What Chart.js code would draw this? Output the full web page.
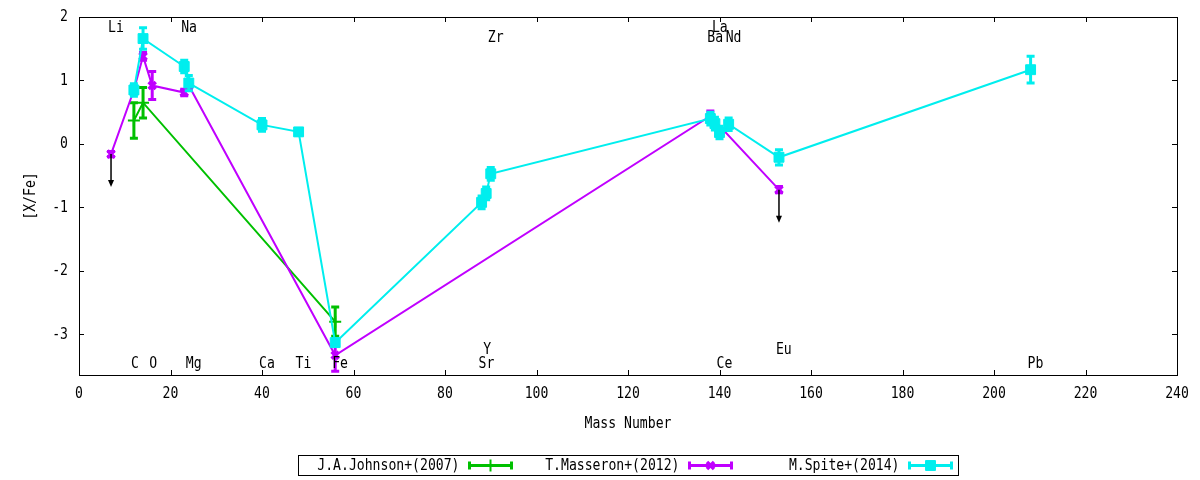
<!DOCTYPE html>
<html>
<head>
<meta charset="utf-8">
<title>[X/Fe] vs Mass Number</title>
<script src="https://cdn.jsdelivr.net/npm/chart.js@4.4.1/dist/chart.umd.min.js"></script>
<style>
  html, body { margin: 0; padding: 0; background: #fff; }
  #wrap { width: 1200px; height: 480px; position: relative; }
</style>
</head>
<body>
<div id="wrap"><canvas id="abundanceChart"></canvas></div>
<script>
// ---- データ ----
const johnsonMass = [12, 14, 56];
const johnsonXFe  = [0.37, 0.65, -2.80];
const johnsonErr  = [0.28, 0.24, 0.23];

const masseronMass = [7, 12, 14, 16, 23, 24, 56, 138, 153];
const masseronXFe  = [-0.16, 0.85, 1.38, 0.92, 0.81, 0.92, -3.33, 0.44, -0.72];
const masseronErr  = [0.04, 0.05, 0.06, 0.22, 0.05, 0.05, 0.25, 0.08, 0.05];

const spiteMass = [12, 14, 23, 24, 40, 48, 56, 88, 89, 90, 138, 139, 140, 142, 153, 208];
const spiteXFe  = [0.85, 1.66, 1.22, 0.96, 0.30, 0.19, -3.13, -0.92, -0.78, -0.47, 0.40, 0.32, 0.18, 0.31, -0.21, 1.17];
const spiteErr  = [0.10, 0.17, 0.10, 0.12, 0.10, 0.05, 0.06, 0.10, 0.10, 0.10, 0.10, 0.10, 0.10, 0.10, 0.12, 0.21];

// 上限値（矢印）
const limitMass = [7, 153];
const limitFrom = [-0.16, -0.72];
const limitTo   = [-0.68, -1.24];

// 元素ラベル
const elementNames  = ['Li', 'C', 'O', 'Na', 'Mg', 'Ca', 'Ti', 'Fe', 'Sr', 'Y', 'Zr', 'Ba', 'La', 'Ce', 'Nd', 'Eu', 'Pb'];
const elementMass   = [7, 12, 16, 23, 24, 40, 48, 56, 88, 89, 90, 138, 139, 140, 142, 153, 208];
const elementLabelY = [1.83, -3.47, -3.47, 1.83, -3.47, -3.47, -3.47, -3.47, -3.47, -3.25, 1.67, 1.67, 1.83, -3.47, 1.67, -3.25, -3.47];

const xTicks = [0, 20, 40, 60, 80, 100, 120, 140, 160, 180, 200, 220, 240];
const yTicks = [-3, -2, -1, 0, 1, 2];

const xTitle = 'Mass Number';
const yTitle = '[X/Fe]';

// gnuplot風の縦長フォント（横方向に圧縮して描く）
const FONT_CSS = "16px 'DejaVu Sans Mono', monospace";
const SQUEEZE = 0.82;

function toPoints(xs, ys) {
  return xs.map((x, i) => ({ x, y: ys[i] }));
}

function drawLabel(ctx, text, x, y, align, rotate) {
  ctx.save();
  ctx.translate(x, y);
  if (rotate) ctx.rotate(-Math.PI / 2);
  ctx.scale(SQUEEZE, 1);
  ctx.font = FONT_CSS;
  ctx.fillStyle = '#000';
  ctx.textAlign = align;
  ctx.textBaseline = 'middle';
  ctx.fillText(text, 0, 0);
  ctx.restore();
}

// ---- エラーバー / 矢印 / 軸 / ラベル / 凡例 ----
const gnuplotExtras = {
  id: 'gnuplotExtras',
  afterDatasetDraw(chart, args) {
    const ds = chart.data.datasets[args.index];
    if (!ds.errs) return;
    const { ctx, scales: { x, y } } = chart;
    ctx.save();
    ctx.strokeStyle = ds.borderColor;
    ctx.lineWidth = 3;
    ds.data.forEach((p, i) => {
      const px = x.getPixelForValue(p.x);
      const top = y.getPixelForValue(p.y + ds.errs[i]);
      const bot = y.getPixelForValue(p.y - ds.errs[i]);
      ctx.beginPath();
      ctx.moveTo(px, top); ctx.lineTo(px, bot);
      ctx.moveTo(px - 4, top); ctx.lineTo(px + 4, top);
      ctx.moveTo(px - 4, bot); ctx.lineTo(px + 4, bot);
      ctx.stroke();
    });
    ctx.restore();
  },
  afterDraw(chart) {
    const { ctx, chartArea: a, scales: { x, y } } = chart;
    ctx.save();

    // 上限の矢印
    ctx.strokeStyle = '#000';
    ctx.fillStyle = '#000';
    ctx.lineWidth = 1.5;
    limitMass.forEach((m, i) => {
      const px = x.getPixelForValue(m);
      const y0 = y.getPixelForValue(limitFrom[i]);
      const y1 = y.getPixelForValue(limitTo[i]);
      ctx.beginPath();
      ctx.moveTo(px, y0); ctx.lineTo(px, y1 - 6);
      ctx.stroke();
      ctx.beginPath();
      ctx.moveTo(px - 3, y1 - 7); ctx.lineTo(px + 3, y1 - 7); ctx.lineTo(px, y1);
      ctx.closePath();
      ctx.fill();
    });

    // 枠と内向き目盛り
    ctx.lineWidth = 1;
    ctx.strokeRect(a.left + 0.5, a.top + 0.5, a.right - a.left, a.bottom - a.top);
    ctx.beginPath();
    xTicks.forEach(v => {
      const px = Math.round(x.getPixelForValue(v)) + 0.5;
      ctx.moveTo(px, a.bottom); ctx.lineTo(px, a.bottom - 5);
      ctx.moveTo(px, a.top); ctx.lineTo(px, a.top + 5);
    });
    yTicks.forEach(v => {
      const py = Math.round(y.getPixelForValue(v)) + 0.5;
      ctx.moveTo(a.left, py); ctx.lineTo(a.left + 5, py);
      ctx.moveTo(a.right, py); ctx.lineTo(a.right - 5, py);
    });
    ctx.stroke();

    // 目盛りラベルと軸タイトル
    xTicks.forEach(v => drawLabel(ctx, String(v), x.getPixelForValue(v), a.bottom + 19, 'center'));
    yTicks.forEach(v => drawLabel(ctx, String(v), a.left - 11, y.getPixelForValue(v), 'right'));
    drawLabel(ctx, xTitle, (a.left + a.right) / 2, a.bottom + 49, 'center');
    drawLabel(ctx, yTitle, 31, (a.top + a.bottom) / 2, 'center', true);

    // 元素名
    elementNames.forEach((n, i) => {
      drawLabel(ctx, n, x.getPixelForValue(elementMass[i]) - 3, y.getPixelForValue(elementLabelY[i]), 'left');
    });

    // 凡例
    const boxW = 660, boxH = 20;
    const cx = (a.left + a.right) / 2;
    const bx = Math.round(cx - boxW / 2) + 0.5;
    const by = 455.5;
    ctx.strokeStyle = '#000';
    ctx.lineWidth = 1;
    ctx.strokeRect(bx, by, boxW, boxH);
    const midY = by + boxH / 2;
    chart.data.datasets.slice().sort((p, q) => q.order - p.order).forEach((ds, i) => {
      const tx = bx + 161 + i * 220;
      drawLabel(ctx, ds.label, tx, midY, 'right');
      const s0 = tx + 10, s1 = tx + 52;
      ctx.strokeStyle = ds.borderColor;
      ctx.lineWidth = 3;
      ctx.beginPath();
      ctx.moveTo(s0, midY); ctx.lineTo(s1, midY);
      ctx.moveTo(s0, midY - 4); ctx.lineTo(s0, midY + 4);
      ctx.moveTo(s1, midY - 4); ctx.lineTo(s1, midY + 4);
      ctx.stroke();
      ctx.fillStyle = ds.borderColor;
      ctx.lineWidth = ds.pointBorderWidth;
      Chart.helpers.drawPoint(ctx, {
        pointStyle: ds.pointStyle, radius: ds.pointRadius, borderWidth: ds.pointBorderWidth
      }, (s0 + s1) / 2, midY);
    });

    ctx.restore();
  }
};

const datasets = [
  {
    label: 'J.A.Johnson+(2007)',
    data: toPoints(johnsonMass, johnsonXFe),
    errs: johnsonErr,
    borderColor: '#00c000',
    pointStyle: 'cross',
    pointRadius: 6,
    pointBorderWidth: 2,
    order: 3,
  },
  {
    label: 'T.Masseron+(2012)',
    data: toPoints(masseronMass, masseronXFe),
    errs: masseronErr,
    borderColor: '#c000ff',
    pointStyle: 'crossRot',
    pointRadius: 5,
    pointBorderWidth: 3.5,
    order: 2,
  },
  {
    label: 'M.Spite+(2014)',
    data: toPoints(spiteMass, spiteXFe),
    errs: spiteErr,
    borderColor: '#00eeee',
    pointStyle: 'rect',
    pointRadius: 7,
    pointBorderWidth: 1,
    order: 1,
  },
].map(d => Object.assign(d, {
  showLine: true,
  borderWidth: 2,
  backgroundColor: d.borderColor,
  pointBackgroundColor: d.borderColor,
  pointBorderColor: d.borderColor,
  pointHoverRadius: d.pointRadius,
}));

new Chart(document.getElementById('abundanceChart'), {
  type: 'scatter',
  data: { datasets },
  options: {
    responsive: true,
    maintainAspectRatio: false,
    animation: false,
    layout: { padding: { left: 0, right: 23, top: 17, bottom: 0 } },
    plugins: { legend: { display: false }, tooltip: { enabled: false } },
    scales: {
      x: {
        type: 'linear',
        min: 0,
        max: 240,
        afterBuildTicks: s => { s.ticks = xTicks.map(v => ({ value: v })); },
        afterFit: s => { s.height = 105; },
        grid: { display: false, drawTicks: false },
        border: { display: false },
        ticks: { display: false },
      },
      y: {
        type: 'linear',
        min: -3.64,
        max: 2,
        afterBuildTicks: s => { s.ticks = yTicks.map(v => ({ value: v })); },
        afterFit: s => { s.width = 79; },
        grid: { display: false, drawTicks: false },
        border: { display: false },
        ticks: { display: false },
      }
    }
  },
  plugins: [gnuplotExtras]
});
</script>
</body>
</html>
